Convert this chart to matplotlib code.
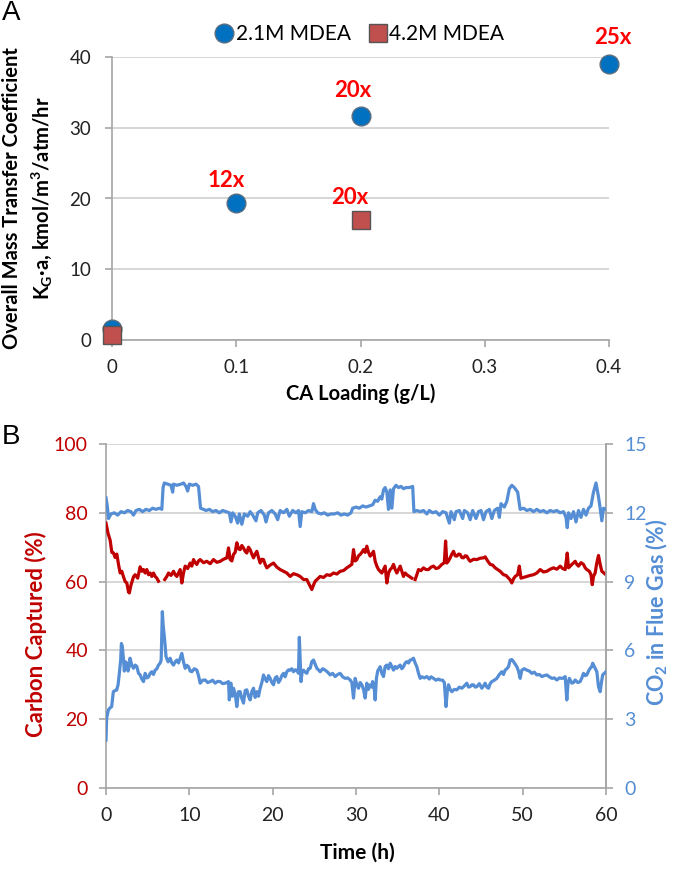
import numpy as np
import matplotlib
matplotlib.use("Agg")
import matplotlib.pyplot as plt
from matplotlib.lines import Line2D

plt.rcParams['font.family'] = ['Lato', 'DejaVu Sans']
plt.rcParams['mathtext.default'] = 'regular'

# ---------------- Panel A data ----------------
ca_loading_21 = [0.0, 0.1, 0.2, 0.4]
kga_21 = [1.5, 19.4, 31.7, 39.0]
ca_loading_42 = [0.0, 0.2]
kga_42 = [0.7, 17.0]
fold_labels = ["12x", "20x", "20x", "25x"]
fold_x = [0.092, 0.194, 0.1915, 0.403]
fold_y = [22.6, 35.2, 20.2, 42.7]
xticks_a = [0, 0.1, 0.2, 0.3, 0.4]
xticklabels_a = ["0", "0.1", "0.2", "0.3", "0.4"]
yticks_a = [0, 10, 20, 30, 40]

# ---------------- Panel B data ----------------
nan = float('nan')
t_capt = [0, 0.25, 0.5, 0.7, 0.9, 1.1, 1.3, 1.5, 1.7, 1.9, 2.1, 2.3, 2.5, 2.7, 2.8, 3.0, 3.3, 3.5, 3.8, 4.1,
          4.3, 4.5, 4.7, 4.9, 5.1, 5.3, 5.5, 5.7, 5.9, 6.1, 6.3, 6.35, 7.05, 7.3, 7.5, 7.8, 8.1, 8.3, 8.5, 8.7,
          8.9, 9.1, 9.3, 9.5, 9.8, 10.1, 10.3, 10.5, 10.7, 10.9, 11.1, 11.3, 11.7, 12.1, 12.5, 12.9, 13.3, 13.7, 14.1, 14.5,
          14.7, 14.9, 15.1, 15.3, 15.5, 15.7, 15.9, 16.1, 16.3, 16.5, 16.7, 16.9, 17.1, 17.3, 17.5, 17.7, 17.9, 18.1, 18.3, 18.5,
          18.7, 18.9, 19.1, 19.3, 19.7, 20.1, 20.5, 20.9, 21.3, 21.7, 22.1, 22.5, 22.9, 23.3, 23.7, 24.1, 24.4, 24.7, 24.9, 25.1,
          25.4, 25.7, 26.1, 26.5, 26.9, 27.3, 27.7, 28.1, 28.5, 28.9, 29.2, 29.5, 29.7, 29.9, 30.1, 30.3, 30.5, 30.7, 30.9, 31.1,
          31.3, 31.5, 31.7, 31.9, 32.1, 32.3, 32.5, 32.7, 32.9, 33.1, 33.3, 33.5, 33.7, 33.9, 34.1, 34.3, 34.5, 34.7, 34.9, 35.1,
          35.3, 35.5, 35.7, 35.9, 36.1, 36.4, 36.7, 36.75, 37.1, 37.3, 37.5, 37.8, 38.1, 38.4, 38.7, 39.0, 39.3, 39.6, 39.9, 40.3,
          40.6, 40.75, 40.9, 41.1, 41.3, 41.5, 41.7, 41.9, 42.1, 42.3, 42.5, 42.7, 42.9, 43.1, 43.3, 43.5, 43.7, 44.1, 44.5, 44.9,
          45.3, 45.5, 45.8, 46.1, 46.4, 46.7, 47.0, 47.3, 47.7, 48.0, 48.3, 48.5, 48.7, 48.9, 49.1, 49.4, 49.6, 49.8, 50.1, 50.5,
          50.9, 51.3, 51.7, 52.1, 52.5, 52.9, 53.3, 53.7, 54.1, 54.5, 54.8, 55.1, 55.35, 55.5, 55.7, 56.0, 56.3, 56.5, 56.7, 57.0,
          57.3, 57.5, 57.7, 58.0, 58.2, 58.35, 58.5, 58.7, 58.9, 59.1, 59.3, 59.5, 59.75, 60.0]
carbon_captured = [77, 74, 72, 68.5, 68.3, 67, 68, 65, 62.5, 63, 61.4, 60, 59.6, 57, 56.7, 59, 61.4, 62, 61, 64.3,
                   63, 63.5, 62.5, 63.5, 62, 62.5, 61.5, 62.5, 61.5, 61, 60.1, nan, 60.6, 61.5, 62.5, 61.8, 63, 62, 61.5, 62.5,
                   63.5, 59.6, 62.5, 64.5, 63.8, 65.4, 64.5, 66.4, 65.5, 65, 66, 66.4, 65.5, 65.9, 65.2, 66.4, 65.6, 65.9, 66.5, 66.9,
                   69.8, 66.4, 66, 67.9, 68.5, 71.3, 69.5, 69.3, 70.5, 69.8, 68.8, 68.3, 70, 69.3, 68, 66.9, 68, 68.8, 67, 65.4,
                   66.5, 66.4, 65, 64, 64.8, 65.4, 64.2, 63.5, 63, 62.5, 61.5, 62.3, 62, 61.5, 60.6, 60.6, 59.1, 57.7, 59, 60.1,
                   60.8, 61.5, 61.2, 62, 61.8, 62.5, 62.2, 63, 63.2, 64, 64.5, 65, 69.3, 66, 66.4, 67.5, 67.9, 68.5, 69.3, 68.5,
                   70.3, 68.5, 67.4, 68, 68.8, 65.9, 64.5, 63.5, 63, 62.5, 63.5, 64.5, 59.6, 62.5, 63.5, 64, 65, 63.5, 62.5, 63.5,
                   64.5, 63, 61.5, 62.5, 62, 61.5, 61, nan, 60.6, 62, 63.5, 63.2, 64, 63.5, 63.5, 64.2, 64.5, 63.8, 64, 65,
                   65.5, 71.8, 65.4, 66, 66.9, 68, 68.8, 67.5, 67.4, 68, 67.9, 67, 66.9, 67.5, 67.4, 66.5, 65.9, 66.5, 66.4, 66.8,
                   66.9, 67.2, 66, 65, 64.8, 64, 63.5, 63, 62, 61.8, 61, 60.5, 59.6, 60.8, 61.5, 62, 64.5, 61, 61.2, 61.5,
                   61.8, 62, 62.5, 63.5, 62.8, 63, 63.6, 64, 63.6, 64.5, 63.8, 63.5, 68.3, 64, 64.5, 65.2, 65.9, 65, 64.5, 65.5,
                   65, 64, 63.5, 63, 62, 59.1, 61.5, 62.5, 65.5, 67.6, 65, 63, 62.5, 62]

t_flue = [0, 0.15, 0.3, 0.6, 1.0, 1.4, 1.8, 2.2, 2.6, 3.0, 3.3, 3.6, 4.0, 4.4, 4.8, 5.2, 5.6, 6.0, 6.4, 6.7,
          6.85, 7.0, 7.4, 7.8, 8.0, 8.1, 8.5, 9.0, 9.3, 9.6, 9.8, 10.0, 10.4, 10.8, 11.1, 11.35,
          11.7, 12.0, 12.4, 12.8, 13.2, 13.6, 14.0, 14.4, 14.8, 15.0, 15.2, 15.5, 15.8, 16.0, 16.3, 16.6, 17.0, 17.3, 17.6,
          18.0, 18.2, 18.6, 19.0, 19.2, 19.5, 19.9, 20.3, 20.6, 20.9, 21.3, 21.7, 22.0, 22.4, 22.8, 23.1, 23.3, 23.5, 23.9,
          24.3, 24.7, 24.9, 25.1, 25.4, 25.8, 26.2, 26.6, 27.0, 27.4, 27.8, 28.2, 28.6, 29.0, 29.4, 29.6, 30.0, 30.4, 30.8,
          31.2, 31.6, 32.0, 32.3, 32.6, 32.9, 33.1, 33.3, 33.5, 33.7, 33.9, 34.1, 34.3, 34.5, 34.8, 35.1, 35.4, 35.7, 36.0,
          36.4, 36.8, 36.95, 37.3, 37.7, 38.1, 38.5, 38.8, 39.2, 39.6, 40.0, 40.4, 40.8, 41.2, 41.4, 41.8, 42.0, 42.4, 42.8,
          43.0, 43.4, 43.7, 44.0, 44.4, 44.7, 45.0, 45.3, 45.6, 46.0, 46.3, 46.6, 47.0, 47.2, 47.4, 47.8, 48.1, 48.4, 48.7,
          49.0, 49.4, 49.7, 50.1, 50.5, 50.9, 51.3, 51.7, 52.1, 52.5, 52.9, 53.3, 53.7, 54.1, 54.5, 54.9, 55.2, 55.35, 55.5,
          55.8, 56.1, 56.4, 56.7, 57.0, 57.3, 57.6, 57.9, 58.2, 58.5, 58.8, 59.1, 59.3, 59.5, 59.7, 60.0]
co2_flue = [12.65, 12.3, 11.75, 11.95, 12.0, 11.9, 12.05, 12.0, 12.1, 12.05, 11.9, 12.1, 12.15, 12.05, 12.15, 12.1, 12.2, 12.15, 12.2, 12.15,
            13.1, 13.3, 13.25, 13.2, 12.9, 13.25, 13.2, 13.25, 13.3, 13.15, 12.95, 13.25, 13.2, 13.25, 13.15, 12.2,
            12.15, 12.1, 12.15, 12.05, 12.1, 12.0, 12.1, 12.05, 12.0, 11.6, 12.0, 11.85, 11.55, 11.95, 11.5, 11.95, 11.85, 12.05, 11.9,
            11.65, 12.0, 12.1, 11.9, 11.6, 12.0, 12.1, 11.95, 11.7, 12.1, 12.0, 12.15, 11.85, 12.1, 12.0, 12.1, 11.4, 12.05, 12.0,
            12.1, 12.05, 12.4, 12.15, 12.0, 11.95, 12.0, 11.9, 11.95, 11.95, 12.0, 11.9, 11.95, 11.9, 12.0, 12.2, 12.25, 12.2, 12.3,
            12.25, 12.3, 12.35, 12.55, 12.5, 12.7, 12.6, 13.0, 13.1, 12.9, 12.15, 13.0, 12.2, 13.05, 13.2, 13.1, 13.15, 13.05, 13.1,
            13.1, 13.15, 12.05, 12.1, 12.05, 12.1, 11.95, 12.1, 12.0, 12.05, 11.9, 12.05, 12.0, 11.55, 12.05, 11.7, 12.05, 12.1, 11.75,
            12.1, 12.0, 11.7, 12.1, 11.75, 12.05, 12.1, 11.7, 12.05, 12.15, 11.75, 12.1, 12.2, 11.8, 12.4, 12.25, 12.5, 13.05, 13.2,
            13.1, 12.9, 12.15, 12.2, 12.1, 12.15, 12.05, 12.15, 12.05, 12.1, 12.0, 12.1, 12.05, 12.1, 12.0, 12.05, 11.8, 11.35, 12.0,
            11.75, 12.05, 11.6, 12.1, 11.8, 12.15, 11.9, 12.2, 12.3, 12.9, 13.3, 12.7, 12.2, 11.65, 12.2, 12.15]

t_low = [0, 0.08, 0.28, 0.5, 0.68, 0.88, 1.1, 1.28, 1.45, 1.6, 1.76, 1.85, 1.95, 2.1, 2.2, 2.35, 2.5, 2.65, 2.8, 2.88,
         3.1, 3.3, 3.5, 3.7, 3.9, 4.1, 4.3, 4.5, 4.7, 4.9, 5.1, 5.3, 5.5, 5.7, 5.9, 6.1, 6.3, 6.5, 6.62, 6.76,
         6.86, 6.96, 7.1, 7.2, 7.45, 7.7, 7.9, 8.1, 8.3, 8.5, 8.7, 8.9, 9.1, 9.3, 9.5, 9.7, 9.9, 10.1, 10.3, 10.6,
         10.9, 11.1, 11.3, 11.6, 11.9, 12.2, 12.5, 12.8, 13.1, 13.4, 13.7, 14.0, 14.3, 14.5, 14.7, 14.8, 14.9, 15.0, 15.15, 15.3,
         15.5, 15.7, 15.9, 16.1, 16.3, 16.5, 16.7, 16.9, 17.1, 17.3, 17.5, 17.7, 17.9, 18.1, 18.3, 18.5, 18.7, 18.9, 19.1, 19.3,
         19.5, 19.7, 19.9, 20.1, 20.3, 20.5, 20.7, 20.9, 21.1, 21.3, 21.5, 21.7, 21.9, 22.1, 22.3, 22.5, 22.7, 22.9, 23.1, 23.2,
         23.3, 23.4, 23.55, 23.7, 23.9, 24.1, 24.3, 24.5, 24.7, 24.9, 25.1, 25.3, 25.5, 25.7, 26.0, 26.3, 26.6, 26.9, 27.2, 27.5,
         27.8, 28.1, 28.4, 28.7, 29.0, 29.3, 29.5, 29.7, 29.9, 30.1, 30.3, 30.5, 30.7, 30.9, 31.1, 31.3, 31.5, 31.7, 31.9, 32.0,
         32.2, 32.3, 32.45, 32.6, 32.9, 33.1, 33.3, 33.5, 33.7, 33.9, 34.1, 34.3, 34.5, 34.7, 34.9, 35.1, 35.3, 35.5, 35.7, 35.9,
         36.1, 36.3, 36.5, 36.7, 36.9, 37.1, 37.3, 37.5, 37.7, 37.9, 38.2, 38.5, 38.8, 39.0, 39.3, 39.6, 39.9, 40.1, 40.4, 40.6,
         40.8, 40.95, 41.1, 41.3, 41.5, 41.8, 42.1, 42.4, 42.7, 43.0, 43.3, 43.5, 43.7, 43.9, 44.1, 44.3, 44.5, 44.8, 45.1, 45.3,
         45.5, 45.7, 45.9, 46.1, 46.3, 46.6, 46.9, 47.2, 47.5, 47.7, 47.9, 48.1, 48.3, 48.5, 48.7, 48.9, 49.1, 49.3, 49.5, 49.7,
         49.9, 50.2, 50.5, 50.8, 51.1, 51.4, 51.7, 52.0, 52.3, 52.6, 52.9, 53.2, 53.5, 53.8, 54.1, 54.4, 54.7, 54.9, 55.1, 55.3,
         55.45, 55.6, 55.9, 56.1, 56.3, 56.6, 56.9, 57.1, 57.3, 57.5, 57.7, 57.9, 58.1, 58.3, 58.4, 58.6, 58.7, 58.9, 59.1, 59.3,
         59.45, 59.6, 59.8, 60.0]
co2_low = [2.09, 3.05, 3.4, 3.5, 3.55, 4.2, 4.25, 4.27, 4.5, 5.0, 5.58, 6.3, 6.2, 5.6, 5.1, 5.5, 5.45, 5.1, 5.35, 5.66,
           5.35, 5.22, 5.36, 5.3, 5.0, 4.93, 4.75, 4.64, 5.0, 4.8, 4.84, 5.0, 5.07, 4.95, 5.14, 5.2, 5.36, 5.45, 5.58, 7.69,
           7.1, 6.75, 6.2, 5.73, 5.5, 5.66, 5.45, 5.36, 5.5, 5.58, 5.45, 5.66, 5.87, 5.5, 5.22, 5.35, 5.29, 5.1, 5.07, 5.2,
           5.14, 4.9, 4.57, 4.7, 4.71, 4.6, 4.64, 4.7, 4.57, 4.65, 4.64, 4.55, 4.57, 4.6, 4.64, 3.84, 4.5, 4.57, 4.0, 4.35,
           4.1, 3.55, 4.2, 4.2, 3.9, 3.7, 4.25, 4.28, 4.0, 3.84, 4.2, 4.35, 3.95, 4.2, 4.0, 4.35, 4.6, 4.93, 4.75, 4.64,
           4.9, 4.78, 4.6, 4.5, 4.8, 4.86, 4.6, 4.71, 4.9, 5.0, 4.85, 5.07, 5.15, 5.14, 5.2, 5.07, 5.15, 5.14, 5.0, 6.57,
           5.6, 4.64, 5.1, 5.14, 5.05, 5.0, 5.2, 5.22, 5.51, 5.58, 5.4, 5.22, 5.15, 5.07, 5.2, 5.14, 5.05, 4.93, 5.0, 4.86,
           4.95, 5.0, 4.85, 4.78, 4.8, 4.71, 4.6, 3.92, 4.78, 4.5, 4.35, 4.6, 4.5, 4.3, 3.92, 4.57, 4.3, 4.5, 4.4, 4.64,
           4.3, 3.84, 4.78, 5.1, 5.29, 5.0, 4.86, 5.3, 5.36, 5.2, 5.44, 5.3, 5.14, 5.3, 5.22, 5.3, 5.36, 5.2, 5.29, 5.45,
           5.51, 5.45, 5.58, 5.6, 5.66, 5.45, 5.29, 5.0, 4.78, 4.85, 4.8, 4.86, 4.75, 4.85, 4.78, 4.7, 4.75, 4.71, 4.7, 4.6,
           3.55, 4.2, 4.5, 4.3, 4.2, 4.3, 4.28, 4.4, 4.35, 4.45, 4.57, 4.4, 4.42, 4.5, 4.5, 4.4, 4.42, 4.55, 4.35, 4.45,
           4.57, 4.4, 4.35, 4.55, 4.64, 4.7, 4.78, 4.95, 5.07, 4.95, 5.14, 5.2, 5.29, 5.58, 5.6, 5.51, 5.4, 5.29, 5.1, 4.78,
           5.14, 5.2, 5.14, 5.1, 5.0, 5.05, 4.93, 4.95, 4.86, 4.9, 4.93, 4.85, 4.78, 4.8, 4.71, 4.8, 4.78, 4.8, 4.86, 3.84,
           4.6, 4.78, 4.57, 4.6, 4.71, 4.6, 4.64, 4.8, 5.0, 4.9, 4.93, 5.1, 5.22, 5.3, 5.44, 5.3, 5.22, 5.07, 4.42, 4.2,
           4.6, 4.93, 5.0, 5.07]

xticks_b = [0, 10, 20, 30, 40, 50, 60]
yticks_left = [0, 20, 40, 60, 80, 100]
yticks_right = [0, 3, 6, 9, 12, 15]

# ---------------- Styling ----------------
RED = '#C00000'
BLUE = '#558ED5'
GRID = '#D0D0D0'
SPINE = '#A6A6A6'

W, H = 673, 869
fig = plt.figure(figsize=(W / 100, H / 100), dpi=100)

def fx(px):
    return px / W

def fy(py):
    return 1 - py / H

# ---------------- Panel A ----------------
axA = fig.add_axes([fx(112), fy(340), fx(609) - fx(112), fy(57) - fy(340)])
axA.set_xlim(0, 0.4)
axA.set_ylim(0, 40)
axA.set_yticks(yticks_a)
axA.set_xticks(xticks_a)
axA.set_xticklabels(xticklabels_a)
axA.grid(axis='y', color=GRID, lw=1.2, zorder=0)
axA.set_axisbelow(True)
for s in ['top', 'right']:
    axA.spines[s].set_visible(False)
for s in ['left', 'bottom']:
    axA.spines[s].set_color(SPINE)
    axA.spines[s].set_linewidth(1.2)
axA.tick_params(axis='both', colors=SPINE, length=5, width=1.2, labelsize=13.5,
                labelcolor='#222222')
axA.tick_params(axis='y', pad=10)
axA.tick_params(axis='x', pad=9)

axA.plot(ca_loading_21, kga_21, 'o', ms=13.5, mfc='#0070C0', mec='#5A6E80', mew=1.0,
         clip_on=False, zorder=3, ls='none')
axA.plot(ca_loading_42, kga_42, 's', ms=12.5, mfc='#C0504D', mec='#555555', mew=1.0,
         clip_on=False, zorder=4, ls='none')
for lab, x, y in zip(fold_labels, fold_x, fold_y):
    axA.text(x, y, lab, color='#FF0000', fontsize=16, fontweight='bold', ha='center', va='center')

axA.set_xlabel('CA Loading (g/L)', fontsize=14.5, fontweight='bold', labelpad=5)
fig.text(fx(12), fy(198), 'Overall Mass Transfer Coefficient', rotation=90, fontsize=14.5,
         fontweight='bold', ha='center', va='center')
fig.text(fx(42), fy(198), r'K$_\mathregular{G}$·a, kmol/m$^\mathregular{3}$/atm/hr', rotation=90,
         fontsize=14.5, fontweight='bold', ha='center', va='center')

handles = [Line2D([], [], marker='o', ls='none', ms=13.5, mfc='#0070C0', mec='#5A6E80'),
           Line2D([], [], marker='s', ls='none', ms=12.5, mfc='#C0504D', mec='#555555')]
fig.legend(handles, ['2.1M MDEA', '4.2M MDEA'], loc='center', bbox_to_anchor=(fx(359), fy(34)),
           ncol=2, frameon=False, fontsize=15, handletextpad=0.05, columnspacing=0.8,
           handlelength=1.0)

fig.text(fx(2), fy(13), 'A', fontsize=20, ha='left', va='center', family='Liberation Sans')

# ---------------- Panel B ----------------
axB = fig.add_axes([fx(106), fy(788), fx(606) - fx(106), fy(444) - fy(788)])
axB.set_xlim(0, 60)
axB.set_ylim(0, 100)
axB.set_xticks(xticks_b)
axB.set_yticks(yticks_left)
axB.grid(axis='y', color=GRID, lw=1.2, zorder=0)
axB.set_axisbelow(True)
axB.spines['top'].set_visible(False)
for s in ['left', 'bottom', 'right']:
    axB.spines[s].set_color(SPINE)
    axB.spines[s].set_linewidth(1.2)
axB.tick_params(axis='both', colors=SPINE, length=5, width=1.2, labelsize=14)
axB.tick_params(axis='y', labelcolor=RED, pad=8)
axB.tick_params(axis='x', labelcolor='#222222', pad=9)

axB2 = axB.twinx()
axB2.set_ylim(0, 15)
axB2.set_yticks(yticks_right)
for s in ['top', 'left', 'bottom']:
    axB2.spines[s].set_visible(False)
axB2.spines['right'].set_color(SPINE)
axB2.spines['right'].set_linewidth(1.2)
axB2.tick_params(axis='y', colors=SPINE, length=5, width=1.2, labelsize=14, labelcolor=BLUE, pad=8)

axB.plot(t_capt, carbon_captured, color=RED, lw=2.3, zorder=3)
axB2.plot(t_flue, co2_flue, color=BLUE, lw=2.3, zorder=3)
axB2.plot(t_low, co2_low, color=BLUE, lw=2.3, zorder=3)

fig.text(fx(36), fy(634), 'Carbon Captured (%)', rotation=90, fontsize=16, fontweight='bold',
         color=RED, ha='center', va='center')
fig.text(fx(657), fy(612), r'CO$_\mathregular{2}$ in Flue Gas (%)', rotation=90, fontsize=15.5,
         fontweight='bold', color=BLUE, ha='center', va='center')
fig.text(fx(357), fy(853), 'Time (h)', fontsize=15, fontweight='bold', ha='center', va='center')

fig.text(fx(2), fy(437), 'B', fontsize=20, ha='left', va='center', family='Liberation Sans')

fig.savefig('out.png', dpi=100)
